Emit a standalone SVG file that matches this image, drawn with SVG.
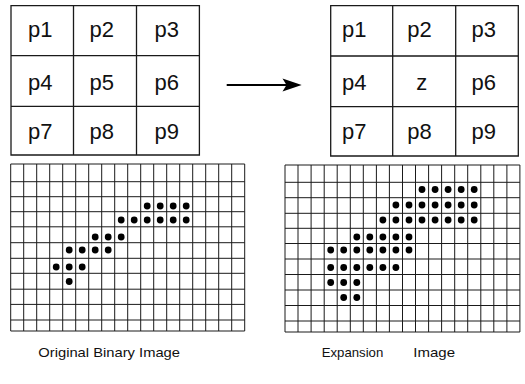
<svg xmlns="http://www.w3.org/2000/svg" xmlns:xlink="http://www.w3.org/1999/xlink" width="525" height="384" viewBox="0 0 525 384">
<style>
.bg{fill:#fff}
.grid{fill:none;stroke:#1a1a1a;stroke-width:1.3}
.fine{fill:none;stroke:#1a1a1a;stroke-width:1}
.cell{font-family:"Liberation Sans",Arial,sans-serif;font-size:22px;fill:#111;text-anchor:middle}
.cap{font-family:"Liberation Sans",Arial,sans-serif;font-size:13px;fill:#111}
.dot{fill:#000}
.conn{stroke:#000;stroke-width:2;fill:none}
</style>
<defs>
<circle id="d" r="3.4" class="dot"/>
</defs>
<rect class="bg" width="525" height="384"/>

<g id="mask-original">
<path class="grid" d="M11 5.7H199.4V155H11Z M73.5 5.7V155 M136.5 5.7V155 M11 55.7H199.4 M11 106.3H199.4"/>
<text class="cell" x="40.3" y="37.3">p1</text>
<text class="cell" x="101.7" y="37.3">p2</text>
<text class="cell" x="166.7" y="37.3">p3</text>
<text class="cell" x="40.3" y="89.7">p4</text>
<text class="cell" x="101.7" y="89.7">p5</text>
<text class="cell" x="166.7" y="89.7">p6</text>
<text class="cell" x="40.3" y="139.2">p7</text>
<text class="cell" x="101.7" y="139.2">p8</text>
<text class="cell" x="166.7" y="139.2">p9</text>
</g>

<g id="mask-expanded">
<path class="grid" d="M330.7 5.7H518.3V156H330.7Z M392.7 5.7V156 M455.7 5.7V156 M330.7 56H518.3 M330.7 106.7H518.3"/>
<text class="cell" x="354.2" y="37.3">p1</text>
<text class="cell" x="419.5" y="37.3">p2</text>
<text class="cell" x="483.7" y="37.3">p3</text>
<text class="cell" x="354.2" y="89.7">p4</text>
<text class="cell" x="421.7" y="89.7">z</text>
<text class="cell" x="483.7" y="89.7">p6</text>
<text class="cell" x="354.2" y="139.2">p7</text>
<text class="cell" x="419.5" y="139.2">p8</text>
<text class="cell" x="483.7" y="139.2">p9</text>
</g>

<g id="connectors">
<path class="conn" d="M226.7 85H287"/>
<polygon points="282.5,78.5 301.7,85 282.5,91.5 286.5,85" fill="#000"/>
</g>

<g id="original-image">
<path class="fine" d="M10.7 164H244.7 M10.7 181.7H244.7 M10.7 196.7H244.7 M10.7 211.7H244.7 M10.7 226.8H244.7 M10.7 242.7H244.7 M10.7 258.3H244.7 M10.7 273.3H244.7 M10.7 289.2H244.7 M10.7 304.4H244.7 M10.7 320H244.7 M10.7 331H244.7
M10.7 164V331 M23.7 164V331 M36.7 164V331 M49.7 164V331 M62.7 164V331 M75.7 164V331 M88.7 164V331 M101.7 164V331 M114.7 164V331 M127.7 164V331 M140.7 164V331 M153.7 164V331 M166.7 164V331 M179.7 164V331 M192.7 164V331 M205.7 164V331 M218.7 164V331 M231.7 164V331 M244.7 164V331"/>
<use xlink:href="#d" x="147.2" y="206"/><use xlink:href="#d" x="160.2" y="206"/><use xlink:href="#d" x="173.2" y="206"/><use xlink:href="#d" x="186.2" y="206"/>
<use xlink:href="#d" x="121.2" y="220"/><use xlink:href="#d" x="134.2" y="220"/><use xlink:href="#d" x="147.2" y="220"/><use xlink:href="#d" x="160.2" y="220"/><use xlink:href="#d" x="173.2" y="220"/><use xlink:href="#d" x="186.2" y="220"/>
<use xlink:href="#d" x="95.2" y="237"/><use xlink:href="#d" x="108.2" y="237"/><use xlink:href="#d" x="121.2" y="237"/>
<use xlink:href="#d" x="69.2" y="250"/><use xlink:href="#d" x="82.2" y="250"/><use xlink:href="#d" x="95.2" y="250"/><use xlink:href="#d" x="108.2" y="250"/>
<use xlink:href="#d" x="56.2" y="267"/><use xlink:href="#d" x="69.2" y="267"/><use xlink:href="#d" x="82.2" y="267"/>
<use xlink:href="#d" x="69.2" y="281.5"/>
</g>

<g id="expansion-image">
<path class="fine" d="M285 165H519.9 M285 182.3H519.9 M285 197.7H519.9 M285 213.3H519.9 M285 228.3H519.9 M285 243.5H519.9 M285 259H519.9 M285 274.5H519.9 M285 290H519.9 M285 305.5H519.9 M285 321H519.9 M285 332H519.9
M285 165V332 M298 165V332 M311.1 165V332 M324.2 165V332 M337.2 165V332 M350.3 165V332 M363.3 165V332 M376.4 165V332 M389.4 165V332 M402.5 165V332 M415.5 165V332 M428.6 165V332 M441.6 165V332 M454.7 165V332 M467.7 165V332 M480.8 165V332 M493.8 165V332 M506.9 165V332 M519.9 165V332"/>
<use xlink:href="#d" x="422" y="189.5"/><use xlink:href="#d" x="435.1" y="189.5"/><use xlink:href="#d" x="448.1" y="189.5"/><use xlink:href="#d" x="461.2" y="189.5"/><use xlink:href="#d" x="474.2" y="189.5"/>
<use xlink:href="#d" x="395.9" y="205"/><use xlink:href="#d" x="409" y="205"/><use xlink:href="#d" x="422" y="205"/><use xlink:href="#d" x="435.1" y="205"/><use xlink:href="#d" x="448.1" y="205"/><use xlink:href="#d" x="461.2" y="205"/><use xlink:href="#d" x="474.2" y="205"/>
<use xlink:href="#d" x="382.9" y="220"/><use xlink:href="#d" x="395.9" y="220"/><use xlink:href="#d" x="409" y="220"/><use xlink:href="#d" x="422" y="220"/><use xlink:href="#d" x="435.1" y="220"/><use xlink:href="#d" x="448.1" y="220"/><use xlink:href="#d" x="461.2" y="220"/><use xlink:href="#d" x="474.2" y="220"/>
<use xlink:href="#d" x="356.8" y="237"/><use xlink:href="#d" x="369.8" y="237"/><use xlink:href="#d" x="382.9" y="237"/><use xlink:href="#d" x="395.9" y="237"/><use xlink:href="#d" x="409" y="237"/>
<use xlink:href="#d" x="330.7" y="250"/><use xlink:href="#d" x="343.7" y="250"/><use xlink:href="#d" x="356.8" y="250"/><use xlink:href="#d" x="369.8" y="250"/><use xlink:href="#d" x="382.9" y="250"/><use xlink:href="#d" x="395.9" y="250"/><use xlink:href="#d" x="409" y="250"/>
<use xlink:href="#d" x="330.7" y="267.5"/><use xlink:href="#d" x="343.7" y="267.5"/><use xlink:href="#d" x="356.8" y="267.5"/><use xlink:href="#d" x="369.8" y="267.5"/><use xlink:href="#d" x="382.9" y="267.5"/><use xlink:href="#d" x="395.9" y="267.5"/>
<use xlink:href="#d" x="330.7" y="282.5"/><use xlink:href="#d" x="343.7" y="282.5"/><use xlink:href="#d" x="356.8" y="282.5"/>
<use xlink:href="#d" x="343.7" y="297.5"/><use xlink:href="#d" x="356.8" y="297.5"/>
</g>

<g id="labels">
<text class="cap" x="38.3" y="356.5" textLength="141.7" lengthAdjust="spacingAndGlyphs">Original Binary Image</text>
<text class="cap" x="321.7" y="356.5" textLength="61.6" lengthAdjust="spacingAndGlyphs">Expansion</text>
<text class="cap" x="413.3" y="356.5" textLength="41.7" lengthAdjust="spacingAndGlyphs">Image</text>
</g>
</svg>
